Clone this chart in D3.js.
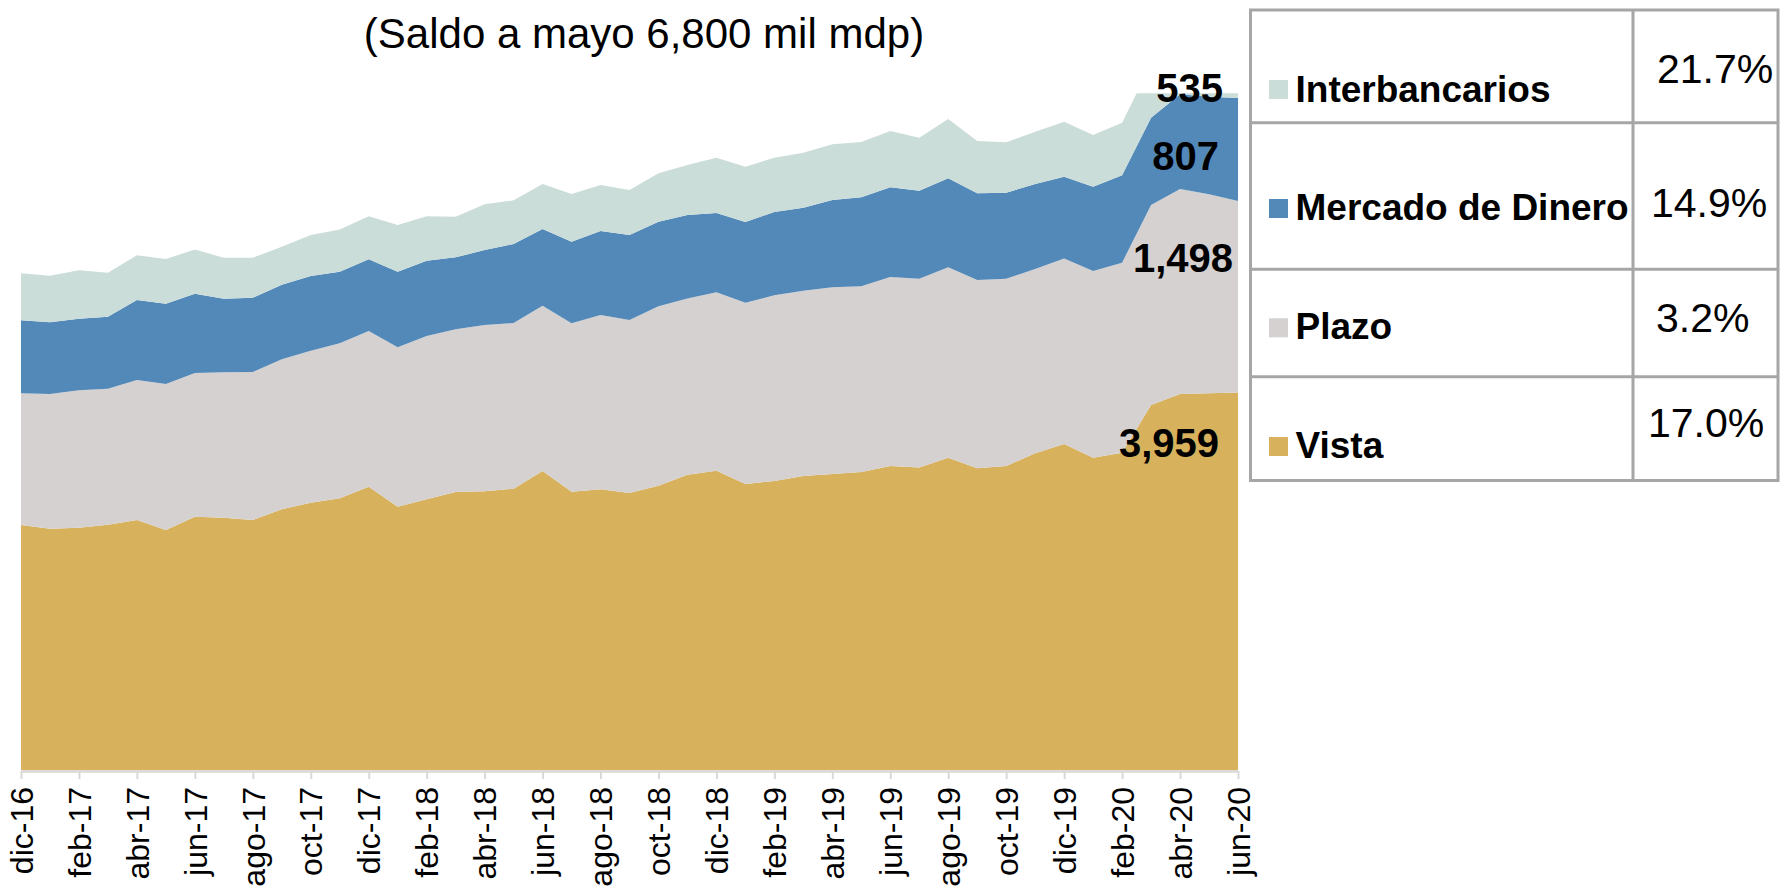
<!DOCTYPE html>
<html><head><meta charset="utf-8">
<script src="https://cdn.jsdelivr.net/npm/d3@7"></script>
<style>
html,body{margin:0;padding:0;background:#fff;}
svg{display:block;font-family:"Liberation Sans",Arial,Helvetica,sans-serif;}
</style>
</head><body>
<svg id="chart" width="1785" height="895"></svg>
<script>
// ---------------- DATA ----------------
const months = ["dic-16","ene-17","feb-17","mar-17","abr-17","may-17","jun-17","jul-17","ago-17","sep-17","oct-17","nov-17",
  "dic-17","ene-18","feb-18","mar-18","abr-18","may-18","jun-18","jul-18","ago-18","sep-18","oct-18","nov-18",
  "dic-18","ene-19","feb-19","mar-19","abr-19","may-19","jun-19","jul-19","ago-19","sep-19","oct-19","nov-19",
  "dic-19","ene-20","feb-20","mar-20","abr-20","may-20","jun-20"];
const tickMonths = months.filter((d, i) => i % 2 === 0);

const vista   = [2921,2892,2900,2924,2960,2882,2986,2978,2960,3044,3096,3130,3221,3064,3122,3180,3185,3205,3344,3182,3201,3172,
                 3229,3315,3346,3242,3266,3305,3320,3336,3383,3371,3448,3365,3383,3482,3555,3448,3487,3860,3946,3952,3959];
const plazo   = [1031,1054,1075,1064,1096,1143,1125,1138,1159,1174,1189,1213,1218,1248,1278,1273,1301,1297,1293,1318,1364,1354,
                 1404,1380,1396,1419,1453,1450,1462,1453,1479,1478,1490,1474,1466,1443,1453,1461,1487,1566,1605,1557,1498];
const mercado = [571,562,561,563,626,628,620,576,581,584,585,561,562,592,590,563,587,618,601,638,657,665,
                 662,652,621,632,652,649,683,697,702,688,697,678,673,665,639,660,684,683,741,764,807];
const inter   = [368,364,379,345,350,350,346,321,313,297,321,331,336,365,347,318,358,342,352,374,360,352,
                 379,392,433,432,425,431,436,433,441,415,464,409,394,409,430,404,412,420,515,525,535];

const seriesNames  = ["Vista","Plazo","Mercado de Dinero","Interbancarios"];
const seriesColors = ["#D7B15C","#D5D1D1","#5389B8","#CBDDD9"];
const growthLabels = ["17.0%","3.2%","14.9%","21.7%"];
const lastLabels   = ["3,959","1,498","807","535"];
const titleText = "(Saldo a mayo 6,800 mil mdp)";
const yDomain = [1000, 6300];

// ---------------- LAYOUT ----------------
const plot = {left: 21, right: 1238, top: 93.3, bottom: 770.5};
const svg = d3.select("#chart");

const x = d3.scalePoint().domain(months).range([plot.left, plot.right]);
const y = d3.scaleLinear().domain(yDomain).range([plot.bottom, plot.top]);

const rows = months.map((m, i) => ({
  m,
  "Vista": vista[i],
  "Plazo": plazo[i],
  "Mercado de Dinero": mercado[i],
  "Interbancarios": inter[i]
}));
const stacked = d3.stack().keys(seriesNames)(rows);

svg.append("defs").append("clipPath").attr("id", "plotclip")
  .append("rect")
  .attr("x", plot.left).attr("y", plot.top)
  .attr("width", plot.right - plot.left).attr("height", plot.bottom - plot.top);

const area = d3.area()
  .x(d => x(d.data.m))
  .y0(d => y(Math.max(d[0], yDomain[0])))
  .y1(d => y(d[1]));

svg.append("g").attr("clip-path", "url(#plotclip)")
  .selectAll("path").data(stacked).join("path")
  .attr("d", area)
  .attr("fill", (d, i) => seriesColors[i]);

// x axis
const xAxis = svg.append("g")
  .attr("transform", `translate(0,${plot.bottom + 0.5})`)
  .call(d3.axisBottom(x).tickValues(tickMonths).tickSize(8).tickSizeOuter(0));
xAxis.select(".domain").attr("stroke", "#D9D9D9").attr("stroke-width", 2.5);
xAxis.selectAll(".tick line").attr("stroke", "#D9D9D9").attr("stroke-width", 2);
xAxis.selectAll(".tick text")
  .attr("transform", "rotate(-90)")
  .attr("x", -16).attr("y", 0).attr("dy", "0.35em")
  .attr("text-anchor", "end")
  .attr("font-size", 32)
  .attr("font-family", "'Liberation Sans', Arial, sans-serif")
  .attr("fill", "#000");

// title
svg.append("text")
  .attr("x", 644).attr("y", 48)
  .attr("text-anchor", "middle")
  .attr("font-size", 42)
  .attr("fill", "#000")
  .text(titleText);

// end-of-series labels (index matches seriesNames)
const endLabelPos = [
  {x: 1219, y: 456.7},
  {x: 1233, y: 271.7},
  {x: 1219, y: 170},
  {x: 1223, y: 101.7}
];
svg.append("g").selectAll("text").data(lastLabels).join("text")
  .attr("x", (d, i) => endLabelPos[i].x)
  .attr("y", (d, i) => endLabelPos[i].y)
  .attr("text-anchor", "end")
  .attr("font-size", 40)
  .attr("font-weight", "bold")
  .attr("fill", "#000")
  .text(d => d);

// legend table
const tbl = {left: 1250.5, right: 1778, top: 10, bottom: 480.5, col: 1633};
const rowLines = [122.7, 269.3, 376.7];
const tg = svg.append("g");
tg.append("rect")
  .attr("x", tbl.left).attr("y", tbl.top)
  .attr("width", tbl.right - tbl.left).attr("height", tbl.bottom - tbl.top)
  .attr("fill", "none").attr("stroke", "#A6A6A6").attr("stroke-width", 3);
tg.append("line").attr("x1", tbl.col).attr("x2", tbl.col).attr("y1", tbl.top).attr("y2", tbl.bottom)
  .attr("stroke", "#A6A6A6").attr("stroke-width", 3);
tg.selectAll("line.row").data(rowLines).join("line").attr("class", "row")
  .attr("x1", tbl.left).attr("x2", tbl.right).attr("y1", d => d).attr("y2", d => d)
  .attr("stroke", "#A6A6A6").attr("stroke-width", 3);

// legend rows, index matches seriesNames
const legendPos = [
  {sw: 437, base: 457.7, pctX: 1648, pctY: 437.3},
  {sw: 318.3, base: 339.3, pctX: 1656, pctY: 331.7},
  {sw: 199, base: 220, pctX: 1651, pctY: 216.7},
  {sw: 80, base: 101.7, pctX: 1657, pctY: 82.7}
];
const lg = tg.selectAll("g.leg").data(seriesNames).join("g").attr("class", "leg");
lg.append("rect")
  .attr("x", 1269).attr("y", (d, i) => legendPos[i].sw)
  .attr("width", 19).attr("height", 19)
  .attr("fill", (d, i) => seriesColors[i]);
lg.append("text")
  .attr("x", 1295.5).attr("y", (d, i) => legendPos[i].base)
  .attr("font-size", 37).attr("font-weight", "bold").attr("fill", "#000")
  .text(d => d);
lg.append("text")
  .attr("x", (d, i) => legendPos[i].pctX).attr("y", (d, i) => legendPos[i].pctY)
  .attr("font-size", 41).attr("fill", "#000")
  .text((d, i) => growthLabels[i]);
</script>
</body></html>
